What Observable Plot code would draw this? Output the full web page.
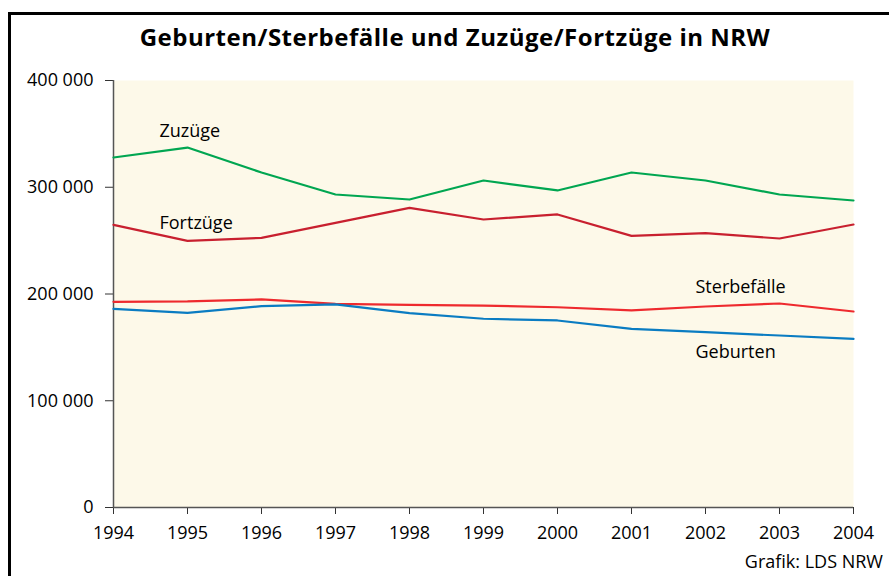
<!DOCTYPE html>
<html>
<head>
<meta charset="utf-8">
<script src="https://cdn.jsdelivr.net/npm/d3@7"></script>
<script src="https://cdn.jsdelivr.net/npm/@observablehq/plot@0.6"></script>
<style>
  html, body { margin: 0; padding: 0; background: #fff; overflow: hidden; width: 889px; height: 576px; }
  #wrap { position: relative; width: 889px; height: 576px; overflow: hidden; font-family: "Open Sans", "Noto Sans", sans-serif; }
  #frame { position: absolute; left: 8px; top: 12px; width: 900px; height: 600px; border: 3px solid #000; box-sizing: border-box; }
  #title { position: absolute; left: 0; width: 910px; top: 20px; text-align: center; font-size: 24px; font-weight: bold; color: #000; letter-spacing: 0.5px; white-space: nowrap; }
  #caption { position: absolute; right: 6px; top: 549px; font-size: 18px; color: #000; white-space: nowrap; }
  #chart { position: absolute; left: 0; top: 60px; }
</style>
</head>
<body>
<div id="wrap">
  <div id="frame"></div>
  <div id="title">Geburten/Sterbefälle und Zuzüge/Fortzüge in NRW</div>
  <div id="chart"></div>
  <div id="caption">Grafik: LDS NRW</div>
</div>
<script>
const years = [1994, 1995, 1996, 1997, 1998, 1999, 2000, 2001, 2002, 2003, 2004];
const zuzuege      = [327900, 337200, 313800, 293200, 288500, 306300, 297000, 313800, 306300, 293200, 287600];
const fortzuege    = [264800, 249800, 252600, 266700, 280700, 269800, 274500, 254500, 257000, 252000, 265100];
const sterbefaelle = [192700, 193000, 194900, 190800, 189900, 189200, 187600, 184600, 188300, 191100, 183600];
const geburten     = [186100, 182400, 188600, 190200, 182000, 176800, 175200, 167400, 164200, 161100, 158000];
const yTicks = [0, 100000, 200000, 300000, 400000];

const seriesNames = ["Zuzüge", "Fortzüge", "Sterbefälle", "Geburten"];
const seriesValues = [zuzuege, fortzuege, sterbefaelle, geburten];
const colors = ["#00a651", "#c8202f", "#ee2a2e", "#0a7cc2"];

const rows = [];
seriesNames.forEach((name, i) => {
  years.forEach((yr, j) => rows.push({series: name, year: yr, value: seriesValues[i][j]}));
});

const point = (name, idx) => ({series: name, year: years[idx], value: seriesValues[seriesNames.indexOf(name)][idx]});

const fmt = d => d3.format(",")(d).replace(/,/g, " ");
const labelStyle = {x: "year", y: "value", text: "series", textAnchor: "start", fontSize: 18, fill: "#000"};

const chart = Plot.plot({
  width: 889,
  height: 500,
  marginLeft: 113,
  marginRight: 36,
  marginTop: 20,
  marginBottom: 53,
  style: {fontFamily: "'Open Sans', 'Noto Sans', sans-serif", fontSize: "18px", color: "#000", background: "transparent"},
  x: {domain: [1994, 2004], ticks: years, tickFormat: d => String(d), label: null, tickSize: 7, tickPadding: 12},
  y: {domain: [0, 400000], ticks: yTicks, tickFormat: fmt, label: null, tickSize: 8, tickPadding: 12},
  color: {domain: seriesNames, range: colors},
  marks: [
    Plot.frame({fill: "#fdf9e9", stroke: null}),
    Plot.axisX({ticks: years, tickFormat: d => String(d), label: null, tickSize: 7, tickPadding: 12, fontSize: 18, stroke: "#333"}),
    Plot.axisY({ticks: yTicks, tickFormat: fmt, label: null, tickSize: 8, tickPadding: 12, fontSize: 18, stroke: "#333"}),
    Plot.ruleX([1994], {stroke: "#555", strokeWidth: 1.5}),
    Plot.ruleY([0], {stroke: "#555", strokeWidth: 1.5}),
    Plot.line(rows, {x: "year", y: "value", z: "series", stroke: "series", strokeWidth: 2.2}),
    Plot.text([point("Zuzüge", 1)], {...labelStyle, dx: -28, dy: -16}),
    Plot.text([point("Fortzüge", 1)], {...labelStyle, dx: -28, dy: -18}),
    Plot.text([point("Sterbefälle", 8)], {...labelStyle, dx: -10, dy: -19}),
    Plot.text([point("Geburten", 8)], {...labelStyle, dx: -10, dy: 20})
  ]
});
document.getElementById("chart").appendChild(chart);
</script>
</body>
</html>
